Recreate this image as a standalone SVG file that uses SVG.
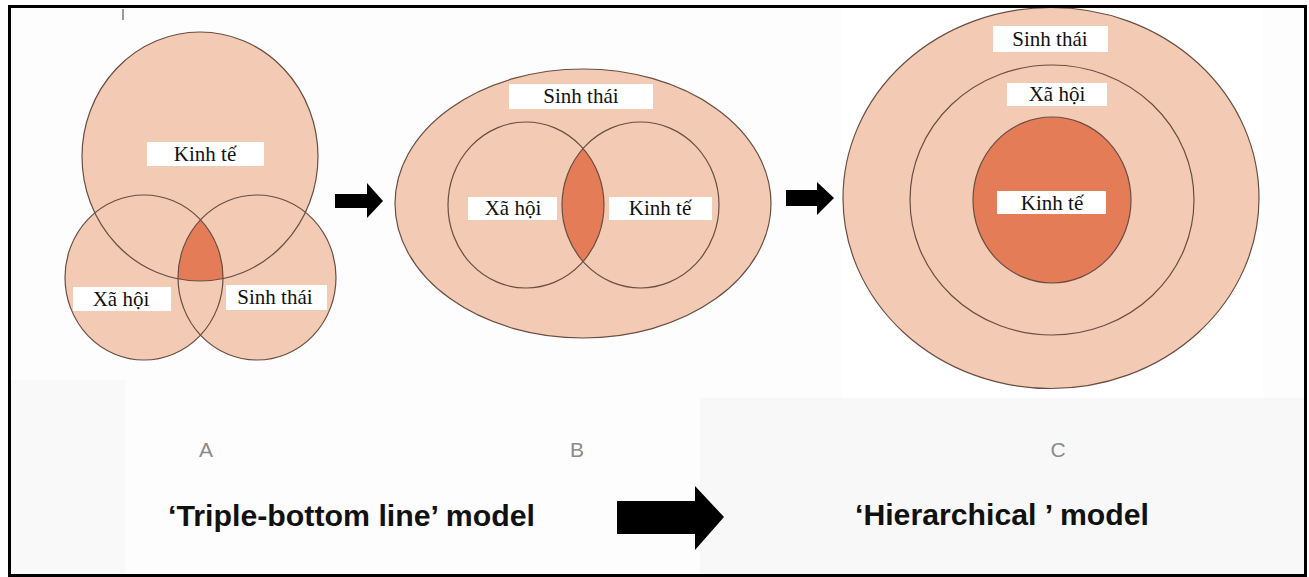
<svg xmlns="http://www.w3.org/2000/svg" width="1309" height="577" viewBox="0 0 1309 577">
  <style>
    .peach { fill: #f3cbb4; }
    .dark { fill: #e57c58; }
    .ring { fill: none; stroke: #6a4d43; stroke-width: 1.2; }
    .box { fill: #ffffff; }
    .lbl { font-family: "Liberation Serif", "Times New Roman", serif; font-size: 21px; fill: #111; text-anchor: middle; }
    .letter { font-family: "Liberation Sans", Arial, sans-serif; font-size: 21px; fill: #8a8a8a; text-anchor: middle; }
    .title { font-family: "Liberation Sans", Arial, sans-serif; font-size: 29px; font-weight: bold; fill: #111; }
    .arrow { fill: #000; }
  </style>
  <defs>
    <clipPath id="clipAleft"><ellipse cx="144" cy="277.5" rx="79" ry="82.5"/></clipPath>
    <clipPath id="clipAright"><ellipse cx="257" cy="277.5" rx="79" ry="82.5"/></clipPath>
    <clipPath id="clipBleft"><ellipse cx="526" cy="205" rx="78" ry="83"/></clipPath>
  </defs>

  <!-- background and frame -->
  <rect x="9.5" y="6.5" width="1296" height="569" fill="#fdfdfd"/>
  <rect x="700" y="398" width="605" height="177" fill="#f8f8f8"/>
  <rect x="11" y="380" width="114" height="195" fill="#f9f9f9"/>
  <rect x="842" y="8" width="421" height="389" fill="#ffffff"/>
  <line x1="123" y1="9" x2="123" y2="20" stroke="#9a9a9a" stroke-width="2"/>

  <!-- Diagram A -->
  <g id="diagramA">
    <g id="A-kinhte-shape">
      <ellipse class="peach" cx="200" cy="156.5" rx="118" ry="124.5"/>
    </g>
    <g id="A-xahoi-shape">
      <ellipse class="peach" cx="144" cy="277.5" rx="79" ry="82.5"/>
    </g>
    <g id="A-sinhthai-shape">
      <ellipse class="peach" cx="257" cy="277.5" rx="79" ry="82.5"/>
    </g>
    <g id="A-core" clip-path="url(#clipAleft)">
      <g clip-path="url(#clipAright)">
        <ellipse class="dark" cx="200" cy="156.5" rx="118" ry="124.5"/>
      </g>
    </g>
    <ellipse class="ring" cx="200" cy="156.5" rx="118" ry="124.5"/>
    <ellipse class="ring" cx="144" cy="277.5" rx="79" ry="82.5"/>
    <ellipse class="ring" cx="257" cy="277.5" rx="79" ry="82.5"/>
    <g id="A-kinhte">
      <rect class="box" x="147" y="142" width="117" height="24"/>
      <text class="lbl" x="205" y="161">Kinh tế</text>
    </g>
    <g id="A-xahoi">
      <rect class="box" x="73" y="287" width="98" height="24"/>
      <text class="lbl" x="121" y="306">Xã hội</text>
    </g>
    <g id="A-sinhthai">
      <rect class="box" x="226" y="285" width="101" height="25"/>
      <text class="lbl" x="275" y="304">Sinh thái</text>
    </g>
  </g>

  <!-- Diagram B -->
  <g id="diagramB">
    <g id="B-sinhthai">
      <ellipse class="peach" cx="583" cy="203.5" rx="188" ry="134.5"/>
      <ellipse class="ring" cx="583" cy="203.5" rx="188" ry="134.5"/>
    </g>
    <g id="B-core" clip-path="url(#clipBleft)">
      <ellipse class="dark" cx="640.5" cy="205" rx="78.5" ry="83"/>
    </g>
    <g id="B-xahoi">
      <ellipse class="ring" cx="526" cy="205" rx="78" ry="83"/>
    </g>
    <g id="B-kinhte">
      <ellipse class="ring" cx="640.5" cy="205" rx="78.5" ry="83"/>
    </g>
    <g id="B-sinhthai-label">
      <rect class="box" x="509" y="84" width="144" height="25"/>
      <text class="lbl" x="581" y="103">Sinh thái</text>
    </g>
    <g id="B-xahoi-label">
      <rect class="box" x="468" y="197" width="89" height="23"/>
      <text class="lbl" x="513" y="215">Xã hội</text>
    </g>
    <g id="B-kinhte-label">
      <rect class="box" x="609" y="197" width="103" height="23"/>
      <text class="lbl" x="660" y="215">Kinh tế</text>
    </g>
  </g>

  <!-- Diagram C -->
  <g id="diagramC">
    <g id="C-sinhthai">
      <ellipse class="peach" cx="1051" cy="198" rx="208" ry="190.5"/>
      <ellipse class="ring" cx="1051" cy="198" rx="208" ry="190.5"/>
      <rect class="box" x="993" y="26" width="115" height="26"/>
      <text class="lbl" x="1050" y="46">Sinh thái</text>
    </g>
    <g id="C-xahoi">
      <ellipse class="ring" cx="1052" cy="200" rx="142" ry="135"/>
      <rect class="box" x="1007" y="83" width="100" height="23"/>
      <text class="lbl" x="1057" y="101">Xã hội</text>
    </g>
    <g id="C-kinhte">
      <ellipse class="dark" cx="1052" cy="200" rx="79" ry="83"/>
      <ellipse class="ring" cx="1052" cy="200" rx="79" ry="83"/>
      <rect class="box" x="997" y="191" width="109" height="23"/>
      <text class="lbl" x="1052" y="210">Kinh tế</text>
    </g>
  </g>

  <!-- Connectors (arrows) -->
  <g id="connectors">
    <polygon class="arrow" points="335,194 367,194 367,183 383,201 367,218 367,208 335,208"/>
    <polygon class="arrow" points="786,190 817,190 817,182 834,198 817,215 817,206 786,206"/>
    <polygon class="arrow" points="617,501 695,501 695,486 724,517 695,550 695,534 617,534"/>
  </g>

  <!-- Captions -->
  <g id="captions">
    <text class="letter" x="206" y="457">A</text>
    <text class="letter" x="577" y="457">B</text>
    <text class="letter" x="1058" y="457">C</text>
    <text class="title" x="168" y="526" textLength="367" lengthAdjust="spacingAndGlyphs">‘Triple-bottom line’ model</text>
    <text class="title" x="855" y="525" textLength="294" lengthAdjust="spacingAndGlyphs">‘Hierarchical ’ model</text>
  </g>

  <rect x="9.5" y="6.5" width="1296" height="569" fill="none" stroke="#000" stroke-width="3"/>
</svg>
